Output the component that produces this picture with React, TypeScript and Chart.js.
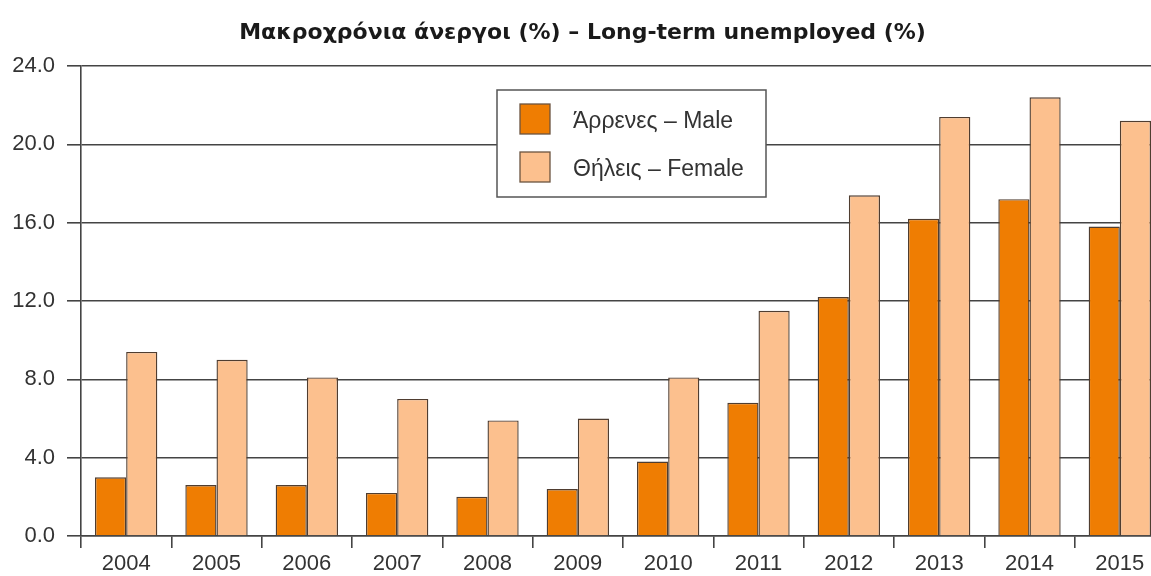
import React, { useEffect, useRef } from "react";
import { Chart, registerables } from "chart.js";

Chart.register(...registerables);

const titleText = "Μακροχρόνια άνεργοι (%) – Long-term unemployed (%)";
const years = ["2004", "2005", "2006", "2007", "2008", "2009", "2010", "2011", "2012", "2013", "2014", "2015"];
const maleLabel = "Άρρενες – Male";
const femaleLabel = "Θήλεις – Female";
const maleValues = [3.0, 2.6, 2.6, 2.2, 2.0, 2.4, 3.8, 6.8, 12.2, 16.2, 17.2, 15.8];
const femaleValues = [9.4, 9.0, 8.1, 7.0, 5.9, 6.0, 8.1, 11.5, 17.4, 21.4, 22.4, 21.2];
const yMin = 0;
const yMax = 24;
const yStep = 4;

const FONT = '"Liberation Sans", Arial, sans-serif';
const TITLE_FONT = '"DejaVu Sans", "Liberation Sans", sans-serif';

const boxLegend = {
  id: "boxLegend",
  afterDraw(chart: any) {
    const ctx = chart.ctx;
    ctx.save();
    const x = 497, y = 90, w = 269, h = 107;
    ctx.fillStyle = "#ffffff";
    ctx.fillRect(x, y, w, h);
    ctx.strokeStyle = "#555555";
    ctx.lineWidth = 1.5;
    ctx.strokeRect(x, y, w, h);
    chart.data.datasets.forEach((ds: any, i: number) => {
      const sy = 104 + i * 48;
      ctx.fillStyle = ds.backgroundColor;
      ctx.fillRect(520, sy, 30, 30);
      ctx.strokeStyle = "#6b5440";
      ctx.lineWidth = 1.3;
      ctx.strokeRect(520, sy, 30, 30);
      ctx.fillStyle = "#333333";
      ctx.font = "23px " + FONT;
      ctx.textBaseline = "middle";
      ctx.textAlign = "left";
      ctx.fillText(ds.label, 573, sy + 18);
    });
    ctx.restore();
  },
};

export default function App() {
  const ref = useRef<HTMLCanvasElement | null>(null);
  useEffect(() => {
    if (!ref.current) return;
    const chart = new Chart(ref.current, {
      type: "bar",
      data: {
        labels: years,
        datasets: [
          {
            label: maleLabel,
            data: maleValues,
            backgroundColor: "#ef7d02",
            borderColor: "#4f3d30",
            borderWidth: 1.4,
            categoryPercentage: 0.69,
            barPercentage: 1.0,
          },
          {
            label: femaleLabel,
            data: femaleValues,
            backgroundColor: "#fcc08e",
            borderColor: "#4f3d30",
            borderWidth: 1.4,
            categoryPercentage: 0.69,
            barPercentage: 1.0,
          },
        ],
      },
      options: {
        responsive: false,
        animation: false,
        layout: { padding: { left: 0, right: 0, top: 0, bottom: 0 } },
        plugins: {
          legend: { display: false },
          tooltip: { enabled: false },
          title: {
            display: true,
            text: titleText,
            color: "#1a1a1a",
            font: { family: TITLE_FONT, size: 22, weight: "bold" },
            padding: { top: 20, bottom: 19.6 },
          },
        },
        scales: {
          x: {
            offset: true,
            grid: {
              offset: true,
              drawOnChartArea: false,
              drawTicks: true,
              tickLength: 12,
              color: "#444444",
              lineWidth: 1.6,
            },
            border: { display: true, color: "#444444", width: 1.6 },
            ticks: {
              color: "#333333",
              font: { family: FONT, size: 22 },
              padding: 3,
              maxRotation: 0,
            },
            afterFit(scale: any) {
              scale.height = 40;
            },
          },
          y: {
            min: yMin,
            max: yMax,
            ticks: {
              stepSize: yStep,
              color: "#333333",
              font: { family: FONT, size: 22 },
              padding: 12,
              callback: (v: any) => Number(v).toFixed(1),
            },
            grid: {
              color: "#444444",
              lineWidth: 1.6,
              drawTicks: true,
              tickLength: 14,
            },
            border: { display: true, color: "#444444", width: 1.6 },
            afterFit(scale: any) {
              scale.width = 81;
            },
          },
        },
      },
      plugins: [boxLegend],
    });
    return () => chart.destroy();
  }, []);

  return (
    <div style={{ position: "absolute", left: 0, top: 0, width: 1151, height: 576, overflow: "hidden", background: "#fff" }}>
      <canvas ref={ref} width={1165} height={576} style={{ width: 1165, height: 576, display: "block" }} />
    </div>
  );
}
